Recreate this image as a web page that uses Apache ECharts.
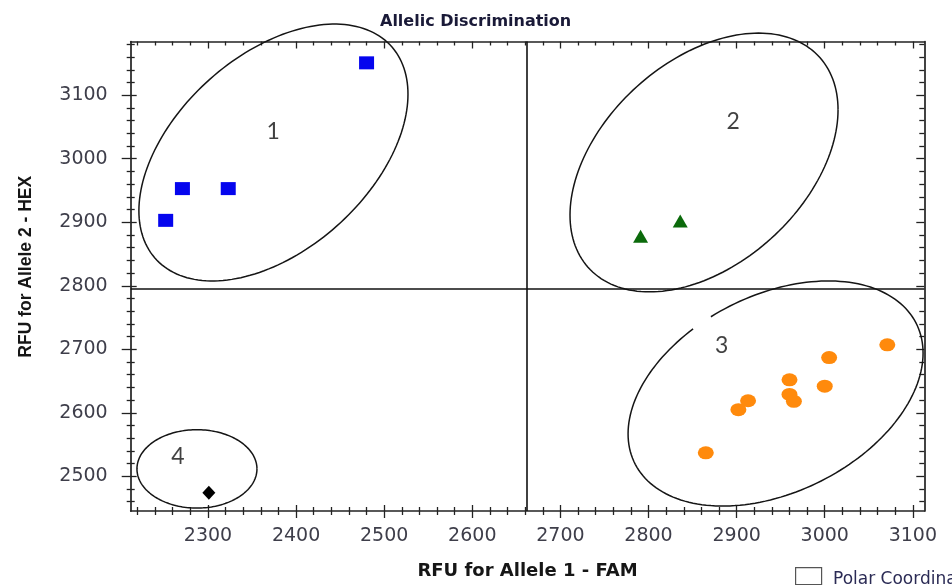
<!DOCTYPE html>
<html>
<head>
<meta charset="utf-8">
<script src="https://cdn.jsdelivr.net/npm/echarts@6/dist/echarts.min.js"></script>
<style>
  html, body { margin: 0; padding: 0; background: #fff; }
  #chart { width: 952px; height: 585px; }
</style>
</head>
<body>
<div id="chart"></div>
<script>
// Fluorescence (RFU) per sample: FAM on x, HEX on y, grouped by genotype call
const allele2FAM = [2480, 2271, 2323, 2252];
const allele2HEX = [3151, 2953, 2953, 2903];
const heteroFAM = [2791, 2836];
const heteroHEX = [2878, 2902];
const allele1FAM = [3071, 3005, 2960, 3000, 2960, 2965, 2913, 2902, 2865];
const allele1HEX = [2707, 2687, 2652, 2642, 2629, 2618, 2619, 2605, 2537];
const noCallFAM = [2301];
const noCallHEX = [2474];

// Call thresholds
const famThreshold = 2662;
const hexThreshold = 2796;

// Axis ranges and ticks
const famRange = [2212.3, 3113];
const hexRange = [2445.4, 3184.6];
const famMajorTicks = [2300, 2400, 2500, 2600, 2700, 2800, 2900, 3000, 3100];
const hexMajorTicks = [2500, 2600, 2700, 2800, 2900, 3000, 3100];
const minorStep = 20;

// Cluster rings: centre (FAM, HEX), half-extent along FAM and HEX, tilt phase (deg), optional gap [from, to] (deg)
const ringCenterFAM = [2374.3, 2863, 2944.2, 2287.5];
const ringCenterHEX = [3009.8, 2994.1, 2630.4, 2511.7];
const ringHalfFAM = [152.7, 152.1, 167.4, 68.1];
const ringHalfHEX = [202.2, 203.7, 177.2, 61.7];
const ringTilt = [27, 24, 21, 0];
const ringGapFrom = [null, null, 117, null];
const ringGapTo = [null, null, 123, null];

// Cluster numbers
const clusterNames = ['1', '2', '3', '4'];
const clusterFAM = [2374, 2896, 2883, 2266];
const clusterHEX = [3042, 3059, 2706, 2531];

function minorTicks(range, majors) {
  const out = [];
  const start = Math.ceil(range[0] / minorStep) * minorStep;
  for (let v = start; v <= range[1]; v += minorStep) {
    if (majors.indexOf(v) < 0) out.push(v);
  }
  return out;
}
const famMinorTicks = minorTicks(famRange, famMajorTicks);
const hexMinorTicks = minorTicks(hexRange, hexMajorTicks);

const zipPoints = (xs, ys) => xs.map((x, i) => [x, ys[i]]);

const frameColor = '#222222';
const tickStyle = { color: frameColor, width: 1.3 };

// One axis layer: a tick set drawn on one side of the frame
function tickLayer(dim, position, ticks, length, inside, extra) {
  const range = dim === 'x' ? famRange : hexRange;
  return Object.assign({
    type: 'value',
    position: position,
    min: range[0],
    max: range[1],
    splitLine: { show: false },
    axisLine: { show: false, onZero: false },
    axisLabel: { show: false },
    minorTick: { show: false },
    axisTick: { show: true, inside: inside, length: length, customValues: ticks, lineStyle: tickStyle },
    silent: true
  }, extra || {});
}

const frameLine = { show: true, onZero: false, lineStyle: { color: frameColor, width: 1.7 } };
const tickFont = { fontFamily: 'DejaVu Sans', fontSize: 19, color: '#3e3e4a', formatter: v => String(v) };
const nameFont = { fontFamily: 'Liberation Sans, Arial, sans-serif', fontWeight: 'bold', color: '#161616' };

const xAxes = [
  tickLayer('x', 'bottom', famMajorTicks, 7, false, {
    axisLine: frameLine,
    axisLabel: Object.assign({ show: true, customValues: famMajorTicks, margin: 16 }, tickFont),
    name: 'RFU for Allele 1 - FAM',
    nameLocation: 'middle',
    nameGap: 51,
    nameTextStyle: Object.assign({}, nameFont, { fontFamily: 'DejaVu Sans', fontSize: 18 })
  }),
  tickLayer('x', 'bottom', famMajorTicks, 6, true),
  tickLayer('x', 'bottom', famMinorTicks, 4, false),
  tickLayer('x', 'bottom', famMinorTicks, 4, true),
  tickLayer('x', 'top', famMajorTicks, 7, true, { axisLine: frameLine }),
  tickLayer('x', 'top', famMinorTicks, 4, true)
];

const yAxes = [
  tickLayer('y', 'left', hexMajorTicks, 9, false, {
    axisLine: frameLine,
    axisLabel: Object.assign({ show: true, customValues: hexMajorTicks, margin: 23, padding: [0, 0, 3, 0] }, tickFont),
    name: 'RFU for Allele 2 - HEX',
    nameLocation: 'middle',
    nameGap: 96,
    nameTextStyle: Object.assign({}, nameFont, { fontSize: 17.5, padding: [0, 0, 0, 19] })
  }),
  tickLayer('y', 'left', hexMajorTicks, 6, true),
  tickLayer('y', 'left', hexMinorTicks, 4, false),
  tickLayer('y', 'left', hexMinorTicks, 4, true),
  tickLayer('y', 'right', hexMajorTicks, 8, true, { axisLine: frameLine }),
  tickLayer('y', 'right', hexMinorTicks, 5, true)
];

const rings = ringCenterFAM.map((cx, i) => [
  cx, ringCenterHEX[i], ringHalfFAM[i], ringHalfHEX[i], ringTilt[i],
  ringGapFrom[i] == null ? -1 : ringGapFrom[i],
  ringGapTo[i] == null ? -1 : ringGapTo[i]
]);

// Traces an ellipse in data space and maps it through the axes
function renderRing(params, api) {
  const cx = api.value(0), cy = api.value(1);
  const rx = api.value(2), ry = api.value(3);
  const tilt = api.value(4) * Math.PI / 180;
  const gapFrom = api.value(5), gapTo = api.value(6);
  const hasGap = gapFrom >= 0;
  const runs = [];
  let run = [];
  for (let deg = 0; deg <= 360; deg += 2) {
    const inGap = hasGap && deg > gapFrom && deg < gapTo;
    if (inGap) {
      if (run.length) { runs.push(run); run = []; }
      continue;
    }
    const t = deg * Math.PI / 180;
    run.push(api.coord([cx + rx * Math.cos(t), cy + ry * Math.sin(t + tilt)]));
  }
  if (run.length) runs.push(run);
  if (hasGap && runs.length > 1) {
    // join the segment after the gap with the one that starts at 0 deg
    const last = runs.pop();
    runs[0] = last.concat(runs[0]);
  }
  return {
    type: 'group',
    children: runs.map(pts => ({
      type: 'polyline',
      shape: { points: pts },
      style: { stroke: '#151515', lineWidth: 1.5, fill: null }
    }))
  };
}

const ovalPath = 'path://M0,6.5A8,6.5 0 1,1 16,6.5A8,6.5 0 1,1 0,6.5Z';

const chart = echarts.init(document.getElementById('chart'), null, { renderer: 'canvas' });
chart.setOption({
  animation: false,
  backgroundColor: '#ffffff',
  title: {
    text: 'Allelic Discrimination',
    left: 380,
    top: 14,
    padding: 0,
    textStyle: { fontFamily: 'DejaVu Sans', fontWeight: 'bold', fontSize: 16, color: '#1a1a38' }
  },
  grid: { left: 130.7, right: 27.7, top: 41.5, bottom: 70, containLabel: false },
  xAxis: xAxes,
  yAxis: yAxes,
  series: [
    {
      name: 'Allele 2',
      type: 'scatter',
      symbol: 'rect',
      symbolSize: [15, 13],
      itemStyle: { color: '#0505ee', opacity: 1 },
      data: zipPoints(allele2FAM, allele2HEX),
      markLine: {
        silent: true,
        symbol: 'none',
        label: { show: false },
        lineStyle: { color: '#111', width: 1.6, type: 'solid' },
        data: [{ xAxis: famThreshold }, { yAxis: hexThreshold }]
      }
    },
    {
      name: 'Heterozygote',
      type: 'scatter',
      symbol: 'triangle',
      symbolSize: [15, 13],
      itemStyle: { color: '#0b6a0b', opacity: 1 },
      data: zipPoints(heteroFAM, heteroHEX)
    },
    {
      name: 'Allele 1',
      type: 'scatter',
      symbol: ovalPath,
      symbolSize: [16, 13],
      itemStyle: { color: '#ff8a0c', opacity: 1 },
      data: zipPoints(allele1FAM, allele1HEX)
    },
    {
      name: 'No Call',
      type: 'scatter',
      symbol: 'diamond',
      symbolSize: [13, 14],
      itemStyle: { color: '#000000', opacity: 1 },
      data: zipPoints(noCallFAM, noCallHEX)
    },
    {
      name: 'Clusters',
      type: 'custom',
      silent: true,
      clip: false,
      renderItem: renderRing,
      data: rings,
      z: 3
    },
    {
      name: 'Cluster numbers',
      type: 'scatter',
      silent: true,
      symbolSize: 0.1,
      itemStyle: { color: 'rgba(0,0,0,0)' },
      label: {
        show: true,
        position: 'inside',
        formatter: p => p.name,
        fontFamily: 'Lato',
        fontSize: 23,
        color: '#111'
      },
      data: clusterNames.map((n, i) => ({ name: n, value: [clusterFAM[i], clusterHEX[i]] }))
    }
  ],
  graphic: [
    {
      type: 'rect',
      left: 795,
      top: 567,
      shape: { width: 26, height: 17 },
      style: { fill: '#fff', stroke: '#555', lineWidth: 1.2 }
    },
    {
      type: 'text',
      left: 833,
      top: 571,
      style: { text: 'Polar Coordinates', fontFamily: 'DejaVu Sans', fontSize: 17, fill: '#2b2b55' }
    }
  ]
});
</script>
</body>
</html>
